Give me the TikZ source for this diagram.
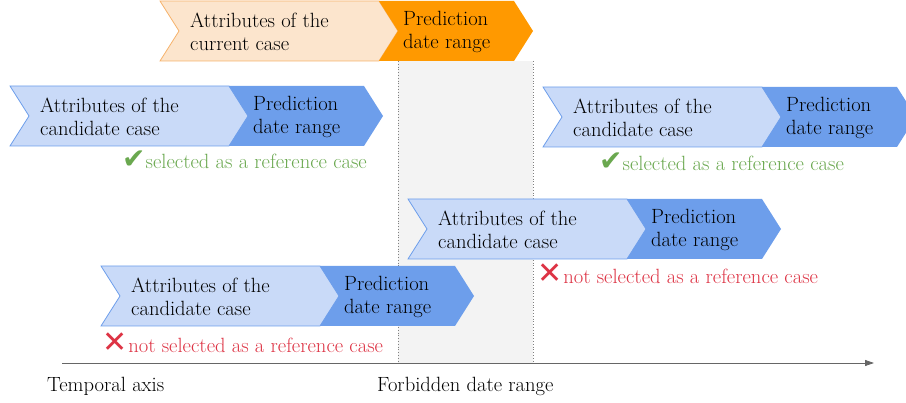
\documentclass[tikz,border=0pt]{standalone}
\usepackage{fontspec}
\newfontfamily\symfont{DejaVu Sans}
\usetikzlibrary{arrows.meta}

\definecolor{attrorange}{HTML}{FCE5CD}
\definecolor{edgeorange}{HTML}{F6B26B}
\definecolor{predorange}{HTML}{FF9900}
\definecolor{attrblue}{HTML}{C9DAF8}
\definecolor{edgeblue}{HTML}{6D9EEB}
\definecolor{predblue}{HTML}{6D9EEB}
\definecolor{okgreen}{HTML}{6AA84F}
\definecolor{nored}{HTML}{DD3344}
\definecolor{forbidgray}{HTML}{F3F3F3}

% one case: name, left x, top y, light style, dark style, kind of case
\newcommand\casebar[6]{%
  \path[#4] (#2,#3) -- ++(219,0) -- ++(19,30) -- ++(-19,30) -- ++(-219,0) -- ++(19,-30) -- cycle;
  \path[#5] ({#2+219},#3) -- ++(135,0) -- ++(19,30) -- ++(-19,30) -- ++(-135,0) -- ++(19,-30) -- cycle;
  \node[casetext] (#1 attr) at ({#2+30},{#3+31}) {Attributes of the\\#6 case};
  \node[casetext] (#1 pred) at ({#2+243},{#3+31}) {Prediction\\date range};
}
\newcommand\okmark{{\symfont\fontsize{28}{28}\selectfont ✔}}
\newcommand\nomark{{\symfont\fontsize{30}{30}\selectfont ✕}\kern1pt}

\begin{document}
\begin{tikzpicture}[x=1pt,y=-1pt,
    casetext/.style={anchor=west,align=left,inner sep=0pt,font=\fontsize{20.6}{23}\selectfont},
    cur attr/.style={fill=attrorange,draw=edgeorange,line width=0.8pt},
    cur pred/.style={fill=predorange},
    cand attr/.style={fill=attrblue,draw=edgeblue,line width=0.8pt},
    cand pred/.style={fill=predblue},
    verdict/.style={anchor=west,inner sep=0pt,font=\fontsize{20.6}{23}\selectfont},
    bound/.style={gray,dotted,line width=0.8pt}]
  \useasboundingbox (0,0) rectangle (906,403);
  \clip (0,0) rectangle (906,403);

  % forbidden date range
  \coordinate (fb nw) at (398,61);
  \coordinate (fb sw) at (398,363);
  \coordinate (fb ne) at (533,61);
  \coordinate (fb se) at (533,363);
  \fill[forbidgray] (fb nw) rectangle (fb se);
  \draw[bound] (fb nw) -- (fb sw);
  \draw[bound] (fb ne) -- (fb se);

  % the cases
  \casebar{cur}{160}{1}{cur attr}{cur pred}{current}
  \casebar{left}{10}{86}{cand attr}{cand pred}{candidate}
  \casebar{right}{543}{87}{cand attr}{cand pred}{candidate}
  \casebar{mid}{408}{199}{cand attr}{cand pred}{candidate}
  \casebar{low}{101}{266}{cand attr}{cand pred}{candidate}

  \node[verdict,text=okgreen] (left ok) at (122,160) {\okmark selected as a reference case};
  \node[verdict,text=okgreen] (right ok) at (599,162) {\okmark selected as a reference case};
  \node[verdict,text=nored] (mid no) at (537,274) {\nomark not selected as a reference case};
  \node[verdict,text=nored] (low no) at (102,343) {\nomark not selected as a reference case};

  % temporal axis
  \coordinate (ax start) at (62,363);
  \coordinate (ax end) at (874,363);
  \draw[gray!80!black,line width=0.8pt,-{Triangle[length=9pt,width=6pt]}] (ax start) -- (ax end);
  \node[verdict,anchor=base west] (axis label) at (47,392) {Temporal axis};
  \node[verdict,anchor=base west] (forbid label) at (377,392) {Forbidden date range};
\end{tikzpicture}
\end{document}
